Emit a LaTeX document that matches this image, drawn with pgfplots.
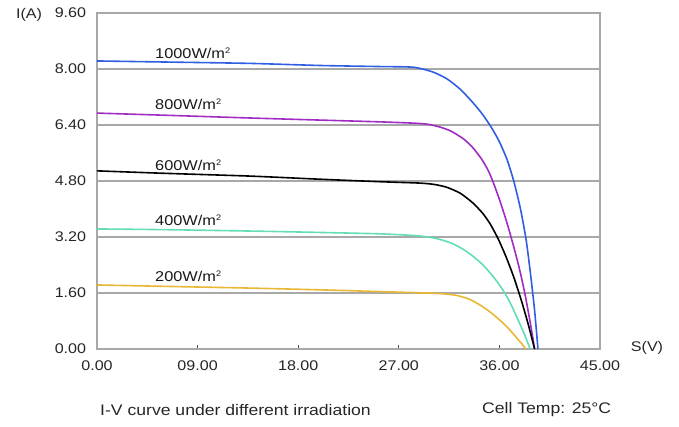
\documentclass[border=0pt]{standalone}
\usepackage{pgfplots}
\pgfplotsset{compat=1.18}
\usepackage{fontspec}
\setmainfont{Liberation Sans}[FakeStretch=1.15]
\definecolor{cblue}{HTML}{2F5FE0}
\definecolor{cpurple}{HTML}{A02CC4}
\definecolor{cteal}{HTML}{62DDB8}
\definecolor{cgold}{HTML}{E8B734}
\definecolor{cgrid}{HTML}{A8A8A8}
\newcommand{\sq}{\raisebox{5pt}{\fontsize{8}{8}\selectfont 2}}
\begin{document}
\fontsize{14}{16}\selectfont
\begin{tikzpicture}[x=1pt,y=1pt]
\useasboundingbox (-97,-78) rectangle (582,349);
\begin{axis}[
  at={(0,0)}, anchor=south west,
  scale only axis, width=503pt, height=336pt,
  xmin=0, xmax=45, ymin=0, ymax=9.6,
  axis line style={cgrid, line width=1.2pt},
  xtick={0,9,18,27,36,45},
  xticklabels={0.00,09.00,18.00,27.00,36.00,45.00},
  ytick={0,1.6,3.2,4.8,6.4,8,9.6},
  yticklabels={0.00,1.60,3.20,4.80,6.40,8.00,9.60},
  ymajorgrids, grid style={cgrid, line width=1.2pt},
  xtick style={black!70, line width=0.8pt},
  ytick style={draw=none},
  major tick length=4pt,
  tick align=inside,
  xtick pos=bottom,
  ytick pos=left,
  /pgf/number format/assume math mode=true,
  tick label style={font=\fontsize{14}{16}\selectfont, text=black!85},
  xticklabel style={yshift=-7pt},
  yticklabel style={xshift=-6pt},
  clip=false,
  every axis plot/.append style={line width=1.6pt, smooth, tension=0.4},
]
\addplot[cblue] coordinates {(0,8.23) (6,8.2) (13.7,8.16) (20,8.10) (25.3,8.07) (28.3,8.05) (30,7.92) (31.3,7.72) (32.5,7.42) (33.6,7.05) (34.5,6.70) (35.3,6.32) (36.0,5.92) (36.7,5.40) (37.3,4.78) (37.9,3.98) (38.4,3.10) (38.8,2.10) (39.15,1.10) (39.45,0)};
\addplot[cpurple] coordinates {(0,6.74) (6,6.68) (13.7,6.6) (20,6.54) (25.3,6.49) (28.5,6.45) (29.6,6.42) (30.7,6.34) (31.7,6.22) (32.8,6.00) (33.6,5.76) (34.4,5.43) (35.0,5.10) (35.5,4.72) (36.1,4.18) (36.7,3.58) (37.3,2.90) (37.8,2.28) (38.3,1.55) (38.8,0.68) (39.15,0)};
\addplot[black] coordinates {(0,5.09) (6,5.02) (13.7,4.94) (20,4.85) (25.3,4.78) (28.9,4.74) (30.2,4.70) (31.3,4.62) (32.5,4.45) (33.6,4.18) (34.5,3.88) (35.2,3.56) (35.9,3.14) (36.6,2.63) (37.3,2.04) (38.0,1.35) (38.6,0.68) (39.15,0)};
\addplot[cteal] coordinates {(0,3.43) (6,3.41) (13.7,3.37) (20,3.33) (25.3,3.29) (28.5,3.24) (29.8,3.19) (30.8,3.12) (31.8,3.01) (32.7,2.86) (33.6,2.66) (34.4,2.44) (35.1,2.20) (35.8,1.92) (36.4,1.64) (37.0,1.30) (37.6,0.88) (38.2,0.45) (38.75,0)};
\addplot[cgold] coordinates {(0,1.83) (6,1.79) (13.7,1.74) (20,1.69) (25.3,1.64) (29.5,1.60) (31.0,1.575) (32.2,1.53) (33.4,1.41) (34.5,1.21) (35.4,1.0) (36.3,0.75) (37.0,0.52) (37.6,0.30) (38.0,0.15) (38.35,0)};
\begin{scope}[every node/.style={anchor=base west, inner sep=0pt, font=\fontsize{14.2}{16}\selectfont, text=black!90}]
\node at (axis cs:5.19,8.31) {1000W/m\sq};
\node at (axis cs:5.19,6.83) {800W/m\sq};
\node at (axis cs:5.19,5.11) {600W/m\sq};
\node at (axis cs:5.19,3.54) {400W/m\sq};
\node at (axis cs:5.19,1.94) {200W/m\sq};
\end{scope}
\end{axis}
\node[inner sep=0pt, text=black!85] at (-68,334) {I(A)};
\node[inner sep=0pt, text=black!85] at (550,1) {S(V)};
\node[anchor=west, inner sep=0pt, text=black!85, font=\fontsize{15.3}{17}\selectfont] at (3,-61) {I-V curve under different irradiation};
\node[anchor=west, inner sep=0pt, text=black!85, font=\fontsize{15.3}{17}\selectfont] at (385,-61) {Cell Temp: 25°C};
\end{tikzpicture}
\end{document}
